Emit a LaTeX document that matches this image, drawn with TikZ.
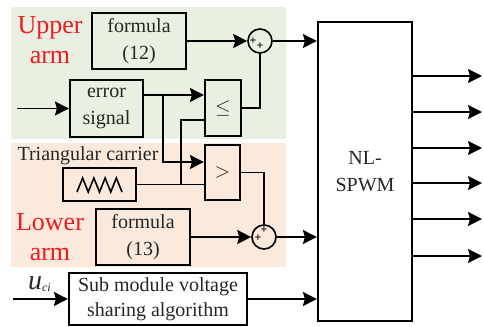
\documentclass[tikz,border=0pt]{standalone}
\usepackage{fontspec}
\setmainfont{Liberation Serif}
\usetikzlibrary{arrows.meta,positioning}
\definecolor{armgreen}{RGB}{233,240,225}
\definecolor{armorange}{RGB}{251,233,219}
\definecolor{armred}{RGB}{237,28,36}

\begin{document}
\begin{tikzpicture}[
    x=0.5pt, y=-0.5pt, line width=0.75pt,
    blk/.style={draw, line width=1.1pt, align=center, inner sep=0pt, text=black!85, font=\fontsize{10}{13.5}\selectfont},
    sumc/.style={circle, draw, line width=0.8pt, minimum size=12pt, inner sep=0pt},
    pl/.style={inner sep=0pt, font=\fontsize{6}{6}\selectfont\bfseries},
    arr/.style={-{Stealth[length=7pt, width=7pt, inset=1pt]}},
    lbl/.style={align=center, text=armred, font=\fontsize{13}{15}\selectfont}
]
    \useasboundingbox (0,0) rectangle (483,327);
    \fill[armgreen] (11,7) rectangle (286,139);
    \fill[armorange] (11,143) rectangle (286,267);

    \node[lbl] (uparm) at (50,40) {Upper\\arm};
    \node[lbl] (loarm) at (50,237) {Lower\\arm};

    \node[blk, minimum width=47pt, minimum height=28pt] (f12) at (139,41) {formula\\(12)};
    \node[blk, minimum width=36.5pt, minimum height=28.5pt] (err) at (106.5,108.5) {error\\signal};
    \node[blk, minimum width=18pt, minimum height=28pt] (le) at (223,108) {$\leq$};
    \node[blk, minimum width=17.5pt, minimum height=27.5pt] (gt) at (222.5,172.5) {$>$};
    \node[text=black!85, font=\fontsize{10}{10}\selectfont] (tc) at (88,156) {Triangular carrier};
    \node[blk, minimum width=36.5pt, minimum height=16.5pt] (tri) at (99.5,184.5) {};
    \draw[line width=0.8pt] (77,192) \foreach \k in {1,...,4} { -- ++(5.625,-14) -- ++(5.625,14) };
    \node[blk, minimum width=47pt, minimum height=28pt] (f13) at (143,237) {formula\\(13)};
    \node[blk, minimum width=89pt, minimum height=26pt, font=\fontsize{10}{12.5}\selectfont] (smv) at (158,299) {Sub module voltage\\sharing algorithm};
    \node[blk, minimum width=47pt, minimum height=149.5pt] (nl) at (365,171.5) {NL-\\SPWM};
    \node[text=black!85] (uci) at (40,284) {\fontsize{14}{14}\selectfont\textit{u}\fontsize{8}{8}\selectfont\textsubscript{\textit{ci}}};

    \node[sumc] (s1) at (260,41) {};
    \node[pl] (p1) at (253,41) {+};
    \node[pl] (p2) at (260,46) {+};
    \node[sumc] (s2) at (264,237) {};
    \node[pl] (p3) at (258,238) {+};
    \node[pl] (p4) at (264,230) {+};

    \coordinate (in1) at (17,108.5);
    \coordinate (in2) at (13,299);
    \coordinate (j1) at (163,95);
    \coordinate (j2) at (163,162);
    \coordinate (j3) at (181,184.5);
    \coordinate (j4) at (181,120);

    \draw[arr] (in1) -- (err.west);
    \draw[arr] (err.east |- j1) -- (le.west |- j1);
    \draw[arr] (j1) -- (j2) -- (gt.west |- j2);
    \draw (tri.east) -- (gt.west |- tri.east);
    \draw (j3) -- (j4) -- (le.west |- j4);
    \draw (le.east) -| (s1.south);
    \draw (gt.east) -| (s2.north);
    \draw[arr] (f12.east) -- (s1.west);
    \draw[arr] (f13.east) -- (s2.west);
    \draw[arr] (s1.east) -- (nl.west |- s1.east);
    \draw[arr] (s2.east) -- (nl.west |- s2.east);
    \draw[arr] (in2) -- (smv.west);
    \draw[arr] (smv.east) -- (nl.west |- smv.east);
    \foreach \y [count=\i] in {76,112,148,183,219,256} {
        \coordinate (o\i) at (482,\y);
        \draw[arr] (nl.east |- o\i) -- (o\i);
    }
\end{tikzpicture}
\end{document}
